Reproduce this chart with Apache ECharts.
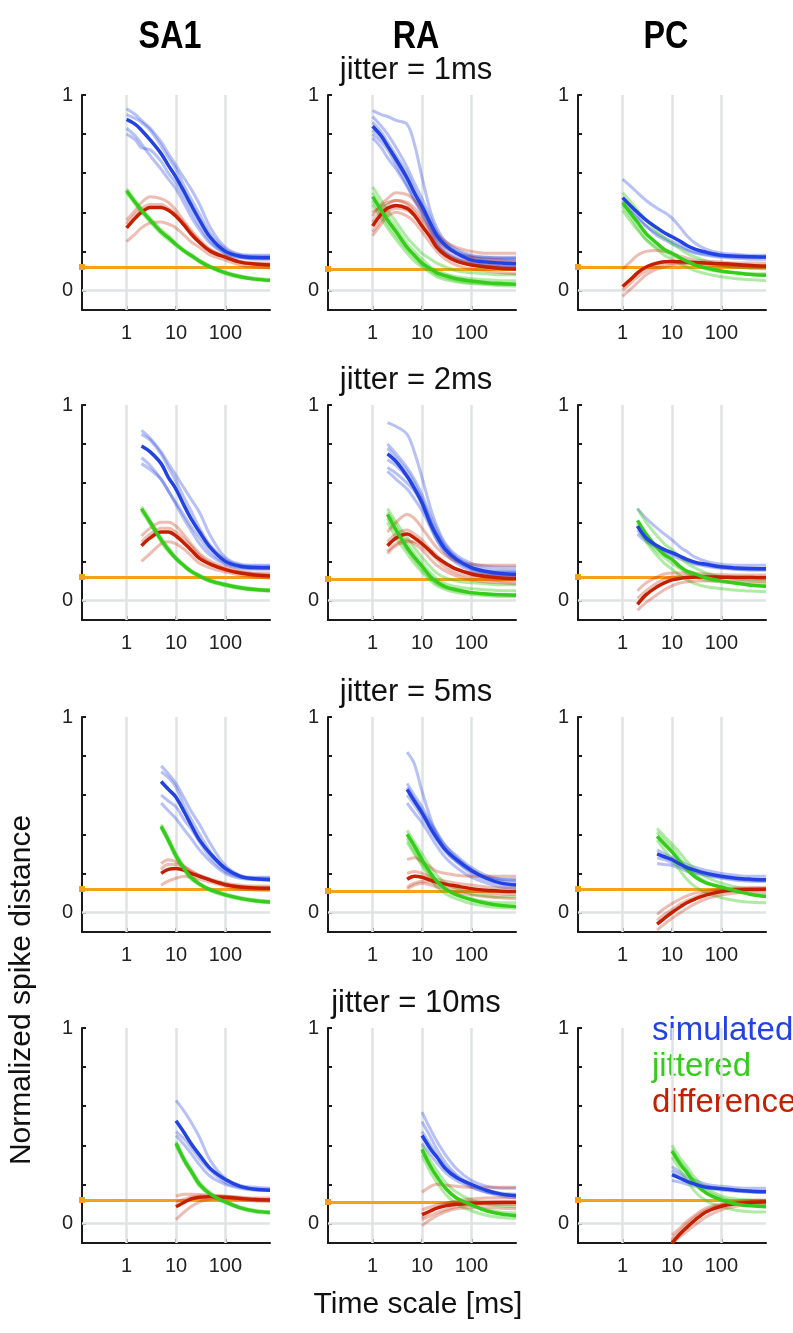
<!DOCTYPE html>
<html>
<head>
<meta charset="utf-8">
<script src="https://cdn.jsdelivr.net/npm/echarts@6/dist/echarts.min.js"></script>
<style>
  html, body { margin: 0; background: #fff; }
  #chart { width: 793px; height: 1333px; }
</style>
</head>
<body>
<div id="chart"></div>
<script>
  const units = ['SA1', 'RA', 'PC'];
  const jitters = ['jitter = 1ms', 'jitter = 2ms', 'jitter = 5ms', 'jitter = 10ms'];
  const xTicks = [1, 10, 100];
  const yTicks = [0, 0.2, 0.4, 0.6, 0.8, 1];
  const yLabels = [0, 1];
  const orangeLevel = [0.123, 0.108, 0.117];

  // time scales (ms) per jitter row
  const t1 = [1, 1.5, 2, 3, 5, 7, 10, 15, 20, 30, 50, 100, 200, 400, 800];
  const t2 = [2, 3, 5, 7, 10, 15, 20, 30, 50, 100, 200, 400, 800];
  const t5 = [5, 7, 10, 15, 20, 30, 50, 100, 200, 400, 800];
  const t10 = [10, 15, 20, 30, 50, 100, 200, 400, 800];

  // ---- jitter = 1ms ----
  const sa1_1_sim = [0.875, 0.85, 0.82, 0.77, 0.70, 0.64, 0.58, 0.50, 0.44, 0.36, 0.27, 0.20, 0.175, 0.168, 0.167];
  const sa1_1_simRuns = [
    [0.93, 0.90, 0.87, 0.83, 0.76, 0.70, 0.64, 0.57, 0.52, 0.44, 0.32, 0.22, 0.185, 0.18, 0.18],
    [0.90, 0.88, 0.86, 0.82, 0.74, 0.68, 0.62, 0.53, 0.47, 0.39, 0.29, 0.21, 0.18, 0.175, 0.175],
    [0.83, 0.79, 0.75, 0.69, 0.62, 0.57, 0.52, 0.44, 0.38, 0.31, 0.24, 0.19, 0.17, 0.165, 0.165],
    [0.80, 0.77, 0.73, 0.72, 0.66, 0.60, 0.55, 0.47, 0.41, 0.33, 0.25, 0.19, 0.168, 0.16, 0.16],
  ];
  const sa1_1_jit = [0.51, 0.45, 0.41, 0.36, 0.30, 0.27, 0.235, 0.20, 0.18, 0.15, 0.12, 0.09, 0.07, 0.058, 0.052];
  const sa1_1_jitRuns = [
    [0.52, 0.46, 0.42, 0.37, 0.31, 0.28, 0.24, 0.205, 0.185, 0.155, 0.125, 0.095, 0.075, 0.062, 0.056],
    [0.50, 0.44, 0.40, 0.35, 0.29, 0.26, 0.23, 0.195, 0.175, 0.145, 0.115, 0.085, 0.066, 0.055, 0.049],
  ];
  const sa1_1_diff = [0.32, 0.37, 0.40, 0.425, 0.425, 0.41, 0.38, 0.33, 0.29, 0.245, 0.20, 0.17, 0.145, 0.135, 0.13];
  const sa1_1_diffRuns = [
    [0.36, 0.41, 0.45, 0.48, 0.47, 0.45, 0.41, 0.35, 0.31, 0.26, 0.21, 0.175, 0.15, 0.14, 0.14],
    [0.25, 0.29, 0.32, 0.345, 0.35, 0.34, 0.32, 0.28, 0.25, 0.22, 0.18, 0.155, 0.13, 0.12, 0.115],
    [0.34, 0.39, 0.42, 0.44, 0.44, 0.42, 0.39, 0.34, 0.30, 0.25, 0.205, 0.17, 0.145, 0.135, 0.13],
  ];

  const ra_1_sim = [0.84, 0.79, 0.74, 0.67, 0.575, 0.50, 0.43, 0.34, 0.28, 0.23, 0.19, 0.155, 0.145, 0.14, 0.137];
  const ra_1_simRuns = [
    [0.92, 0.90, 0.89, 0.87, 0.85, 0.75, 0.58, 0.40, 0.32, 0.25, 0.21, 0.18, 0.17, 0.165, 0.165],
    [0.89, 0.84, 0.80, 0.73, 0.63, 0.55, 0.47, 0.37, 0.30, 0.24, 0.20, 0.175, 0.17, 0.17, 0.17],
    [0.86, 0.81, 0.76, 0.69, 0.60, 0.52, 0.44, 0.35, 0.29, 0.23, 0.19, 0.16, 0.15, 0.145, 0.145],
    [0.80, 0.76, 0.72, 0.64, 0.54, 0.47, 0.40, 0.31, 0.25, 0.20, 0.17, 0.14, 0.13, 0.125, 0.125],
    [0.78, 0.73, 0.68, 0.62, 0.53, 0.46, 0.39, 0.30, 0.24, 0.19, 0.16, 0.135, 0.125, 0.12, 0.12],
    [0.82, 0.78, 0.74, 0.66, 0.57, 0.50, 0.42, 0.33, 0.27, 0.22, 0.19, 0.17, 0.16, 0.16, 0.16],
  ];
  const ra_1_jit = [0.48, 0.41, 0.36, 0.30, 0.22, 0.18, 0.14, 0.11, 0.09, 0.075, 0.06, 0.048, 0.04, 0.035, 0.032];
  const ra_1_jitRuns = [
    [0.53, 0.46, 0.41, 0.35, 0.27, 0.23, 0.19, 0.16, 0.14, 0.12, 0.10, 0.09, 0.085, 0.08, 0.08],
    [0.44, 0.37, 0.32, 0.26, 0.19, 0.15, 0.12, 0.09, 0.07, 0.055, 0.045, 0.035, 0.03, 0.025, 0.022],
    [0.50, 0.43, 0.38, 0.32, 0.24, 0.20, 0.16, 0.12, 0.10, 0.085, 0.07, 0.06, 0.055, 0.05, 0.05],
    [0.46, 0.39, 0.34, 0.28, 0.21, 0.17, 0.13, 0.10, 0.08, 0.065, 0.05, 0.04, 0.035, 0.03, 0.03],
  ];
  const ra_1_diff = [0.33, 0.39, 0.42, 0.435, 0.42, 0.385, 0.33, 0.27, 0.22, 0.18, 0.15, 0.13, 0.12, 0.112, 0.11];
  const ra_1_diffRuns = [
    [0.38, 0.44, 0.47, 0.50, 0.49, 0.46, 0.41, 0.34, 0.29, 0.25, 0.22, 0.20, 0.19, 0.19, 0.19],
    [0.28, 0.34, 0.38, 0.40, 0.38, 0.35, 0.30, 0.24, 0.20, 0.16, 0.13, 0.11, 0.10, 0.09, 0.085],
    [0.35, 0.41, 0.44, 0.46, 0.44, 0.40, 0.35, 0.28, 0.23, 0.19, 0.16, 0.14, 0.13, 0.125, 0.12],
    [0.30, 0.36, 0.40, 0.42, 0.41, 0.38, 0.33, 0.27, 0.22, 0.18, 0.15, 0.13, 0.12, 0.115, 0.11],
    [0.40, 0.43, 0.45, 0.46, 0.45, 0.42, 0.37, 0.31, 0.26, 0.22, 0.19, 0.17, 0.16, 0.155, 0.15],
  ];

  const pc_1_sim = [0.475, 0.43, 0.40, 0.36, 0.32, 0.295, 0.275, 0.25, 0.23, 0.21, 0.195, 0.18, 0.175, 0.172, 0.171];
  const pc_1_simRuns = [
    [0.57, 0.53, 0.50, 0.46, 0.42, 0.40, 0.37, 0.32, 0.28, 0.24, 0.21, 0.19, 0.185, 0.18, 0.18],
    [0.46, 0.41, 0.38, 0.33, 0.28, 0.26, 0.24, 0.22, 0.205, 0.19, 0.18, 0.17, 0.165, 0.16, 0.16],
    [0.44, 0.40, 0.37, 0.33, 0.29, 0.27, 0.25, 0.23, 0.21, 0.195, 0.185, 0.175, 0.17, 0.168, 0.168],
  ];
  const pc_1_jit = [0.45, 0.39, 0.35, 0.29, 0.24, 0.21, 0.19, 0.165, 0.15, 0.13, 0.115, 0.10, 0.09, 0.082, 0.078];
  const pc_1_jitRuns = [
    [0.50, 0.45, 0.41, 0.36, 0.30, 0.27, 0.24, 0.21, 0.19, 0.17, 0.15, 0.13, 0.12, 0.115, 0.115],
    [0.43, 0.37, 0.32, 0.26, 0.21, 0.18, 0.16, 0.135, 0.12, 0.10, 0.085, 0.07, 0.06, 0.055, 0.05],
    [0.41, 0.35, 0.31, 0.26, 0.22, 0.20, 0.18, 0.16, 0.145, 0.13, 0.11, 0.095, 0.09, 0.085, 0.085],
  ];
  const pc_1_diff = [0.02, 0.06, 0.09, 0.12, 0.14, 0.147, 0.148, 0.147, 0.145, 0.143, 0.14, 0.137, 0.133, 0.128, 0.125];
  const pc_1_diffRuns = [
    [0.11, 0.15, 0.18, 0.20, 0.205, 0.20, 0.19, 0.175, 0.165, 0.155, 0.15, 0.145, 0.14, 0.14, 0.14],
    [-0.03, 0.01, 0.04, 0.08, 0.11, 0.12, 0.13, 0.135, 0.135, 0.135, 0.13, 0.125, 0.12, 0.115, 0.11],
    [0.0, 0.04, 0.07, 0.10, 0.125, 0.135, 0.14, 0.14, 0.14, 0.14, 0.135, 0.13, 0.128, 0.125, 0.12],
  ];

  // ---- jitter = 2ms ----
  const sa1_2_sim = [0.79, 0.76, 0.70, 0.63, 0.57, 0.48, 0.42, 0.35, 0.27, 0.20, 0.175, 0.168, 0.167];
  const sa1_2_simRuns = [
    [0.87, 0.83, 0.76, 0.70, 0.64, 0.57, 0.52, 0.45, 0.33, 0.22, 0.185, 0.18, 0.18],
    [0.85, 0.82, 0.75, 0.68, 0.61, 0.52, 0.46, 0.37, 0.28, 0.21, 0.18, 0.175, 0.175],
    [0.73, 0.69, 0.62, 0.56, 0.50, 0.43, 0.38, 0.32, 0.25, 0.19, 0.17, 0.165, 0.165],
    [0.70, 0.67, 0.62, 0.56, 0.49, 0.41, 0.36, 0.29, 0.23, 0.185, 0.165, 0.16, 0.16],
  ];
  const sa1_2_jit = [0.47, 0.40, 0.31, 0.26, 0.215, 0.175, 0.15, 0.125, 0.10, 0.08, 0.065, 0.056, 0.051];
  const sa1_2_jitRuns = [
    [0.48, 0.41, 0.32, 0.27, 0.22, 0.18, 0.155, 0.13, 0.105, 0.085, 0.07, 0.06, 0.055],
    [0.46, 0.39, 0.30, 0.25, 0.21, 0.17, 0.145, 0.12, 0.095, 0.075, 0.06, 0.052, 0.047],
  ];
  const sa1_2_diff = [0.28, 0.32, 0.35, 0.35, 0.33, 0.29, 0.26, 0.215, 0.185, 0.158, 0.14, 0.13, 0.125];
  const sa1_2_diffRuns = [
    [0.33, 0.37, 0.40, 0.40, 0.38, 0.33, 0.29, 0.24, 0.20, 0.17, 0.15, 0.14, 0.14],
    [0.20, 0.24, 0.29, 0.30, 0.29, 0.26, 0.23, 0.19, 0.165, 0.145, 0.13, 0.12, 0.115],
    [0.30, 0.34, 0.37, 0.37, 0.35, 0.31, 0.28, 0.23, 0.19, 0.16, 0.145, 0.135, 0.13],
  ];

  const ra_2_sim = [0.75, 0.71, 0.635, 0.575, 0.50, 0.39, 0.33, 0.26, 0.21, 0.168, 0.148, 0.138, 0.133];
  const ra_2_simRuns = [
    [0.91, 0.89, 0.85, 0.76, 0.63, 0.47, 0.38, 0.29, 0.23, 0.19, 0.175, 0.17, 0.17],
    [0.80, 0.75, 0.68, 0.62, 0.54, 0.43, 0.36, 0.28, 0.22, 0.18, 0.16, 0.155, 0.155],
    [0.78, 0.73, 0.66, 0.60, 0.52, 0.41, 0.34, 0.27, 0.21, 0.165, 0.145, 0.14, 0.14],
    [0.68, 0.65, 0.60, 0.56, 0.49, 0.38, 0.31, 0.24, 0.19, 0.15, 0.13, 0.125, 0.12],
    [0.66, 0.62, 0.57, 0.52, 0.46, 0.37, 0.31, 0.25, 0.20, 0.16, 0.14, 0.13, 0.13],
    [0.72, 0.69, 0.63, 0.57, 0.50, 0.40, 0.33, 0.26, 0.21, 0.17, 0.15, 0.145, 0.145],
  ];
  const ra_2_jit = [0.44, 0.36, 0.27, 0.22, 0.175, 0.12, 0.095, 0.07, 0.055, 0.04, 0.033, 0.029, 0.027];
  const ra_2_jitRuns = [
    [0.47, 0.40, 0.32, 0.27, 0.22, 0.17, 0.14, 0.115, 0.10, 0.09, 0.085, 0.08, 0.08],
    [0.40, 0.32, 0.24, 0.19, 0.145, 0.10, 0.075, 0.055, 0.04, 0.03, 0.025, 0.02, 0.02],
    [0.45, 0.38, 0.29, 0.24, 0.19, 0.14, 0.11, 0.085, 0.07, 0.06, 0.055, 0.05, 0.05],
    [0.42, 0.35, 0.26, 0.21, 0.16, 0.11, 0.085, 0.065, 0.05, 0.04, 0.035, 0.03, 0.03],
  ];
  const ra_2_diff = [0.28, 0.32, 0.34, 0.32, 0.29, 0.25, 0.22, 0.19, 0.16, 0.135, 0.122, 0.115, 0.112];
  const ra_2_diffRuns = [
    [0.35, 0.40, 0.44, 0.42, 0.37, 0.31, 0.27, 0.23, 0.20, 0.185, 0.18, 0.18, 0.18],
    [0.25, 0.29, 0.31, 0.29, 0.26, 0.21, 0.18, 0.15, 0.125, 0.105, 0.095, 0.09, 0.085],
    [0.30, 0.34, 0.36, 0.34, 0.31, 0.26, 0.23, 0.19, 0.16, 0.14, 0.13, 0.125, 0.12],
    [0.24, 0.28, 0.30, 0.30, 0.28, 0.24, 0.21, 0.17, 0.14, 0.12, 0.11, 0.10, 0.10],
  ];

  const pc_2_sim = [0.38, 0.32, 0.28, 0.26, 0.245, 0.225, 0.21, 0.195, 0.185, 0.172, 0.166, 0.163, 0.162];
  const pc_2_simRuns = [
    [0.47, 0.42, 0.37, 0.34, 0.31, 0.27, 0.25, 0.22, 0.20, 0.185, 0.18, 0.18, 0.18],
    [0.36, 0.31, 0.27, 0.25, 0.23, 0.21, 0.20, 0.185, 0.175, 0.165, 0.16, 0.158, 0.158],
    [0.34, 0.30, 0.27, 0.255, 0.24, 0.22, 0.205, 0.19, 0.18, 0.168, 0.16, 0.155, 0.155],
  ];
  const pc_2_jit = [0.41, 0.34, 0.27, 0.235, 0.21, 0.17, 0.15, 0.135, 0.115, 0.10, 0.088, 0.078, 0.073];
  const pc_2_jitRuns = [
    [0.47, 0.40, 0.33, 0.29, 0.26, 0.22, 0.19, 0.165, 0.14, 0.12, 0.11, 0.105, 0.105],
    [0.39, 0.30, 0.23, 0.19, 0.16, 0.125, 0.105, 0.085, 0.07, 0.06, 0.052, 0.048, 0.045],
    [0.38, 0.31, 0.25, 0.22, 0.19, 0.16, 0.14, 0.12, 0.105, 0.095, 0.09, 0.085, 0.085],
  ];
  const pc_2_diff = [-0.02, 0.03, 0.07, 0.09, 0.105, 0.113, 0.117, 0.12, 0.12, 0.119, 0.118, 0.117, 0.116];
  const pc_2_diffRuns = [
    [0.05, 0.09, 0.12, 0.135, 0.14, 0.14, 0.14, 0.138, 0.135, 0.132, 0.13, 0.13, 0.13],
    [-0.05, -0.01, 0.03, 0.055, 0.075, 0.09, 0.095, 0.10, 0.10, 0.10, 0.10, 0.098, 0.097],
    [0.01, 0.05, 0.09, 0.11, 0.12, 0.125, 0.127, 0.127, 0.125, 0.122, 0.12, 0.12, 0.12],
  ];

  // ---- jitter = 5ms ----
  const sa1_5_sim = [0.67, 0.63, 0.59, 0.51, 0.45, 0.37, 0.30, 0.225, 0.185, 0.172, 0.167];
  const sa1_5_simRuns = [
    [0.75, 0.71, 0.66, 0.58, 0.52, 0.45, 0.35, 0.24, 0.19, 0.18, 0.18],
    [0.72, 0.69, 0.64, 0.54, 0.48, 0.40, 0.31, 0.22, 0.185, 0.175, 0.175],
    [0.56, 0.52, 0.48, 0.42, 0.38, 0.32, 0.26, 0.20, 0.175, 0.168, 0.165],
    [0.60, 0.57, 0.54, 0.47, 0.43, 0.36, 0.28, 0.21, 0.18, 0.17, 0.17],
  ];
  const sa1_5_jit = [0.44, 0.37, 0.29, 0.22, 0.18, 0.145, 0.115, 0.09, 0.072, 0.06, 0.053];
  const sa1_5_jitRuns = [
    [0.45, 0.38, 0.30, 0.23, 0.19, 0.15, 0.12, 0.095, 0.077, 0.065, 0.058],
    [0.43, 0.36, 0.28, 0.21, 0.17, 0.14, 0.11, 0.085, 0.068, 0.056, 0.05],
  ];
  const sa1_5_diff = [0.20, 0.22, 0.225, 0.215, 0.20, 0.185, 0.165, 0.142, 0.13, 0.125, 0.124];
  const sa1_5_diffRuns = [
    [0.25, 0.27, 0.26, 0.235, 0.215, 0.19, 0.17, 0.15, 0.14, 0.135, 0.135],
    [0.14, 0.16, 0.175, 0.185, 0.18, 0.17, 0.155, 0.135, 0.12, 0.115, 0.112],
    [0.22, 0.245, 0.245, 0.23, 0.21, 0.19, 0.165, 0.145, 0.132, 0.128, 0.126],
  ];

  const ra_5_sim = [0.63, 0.57, 0.51, 0.43, 0.38, 0.32, 0.27, 0.215, 0.175, 0.15, 0.14];
  const ra_5_simRuns = [
    [0.82, 0.76, 0.62, 0.48, 0.40, 0.32, 0.26, 0.21, 0.18, 0.17, 0.17],
    [0.66, 0.60, 0.54, 0.46, 0.41, 0.34, 0.28, 0.22, 0.18, 0.16, 0.155],
    [0.64, 0.58, 0.52, 0.45, 0.40, 0.34, 0.29, 0.23, 0.19, 0.17, 0.165],
    [0.56, 0.51, 0.46, 0.39, 0.34, 0.28, 0.23, 0.18, 0.15, 0.13, 0.125],
    [0.60, 0.55, 0.49, 0.42, 0.37, 0.31, 0.26, 0.20, 0.165, 0.145, 0.14],
  ];
  const ra_5_jit = [0.40, 0.34, 0.27, 0.20, 0.16, 0.12, 0.09, 0.065, 0.047, 0.036, 0.031];
  const ra_5_jitRuns = [
    [0.42, 0.36, 0.30, 0.23, 0.19, 0.15, 0.12, 0.095, 0.085, 0.08, 0.08],
    [0.38, 0.31, 0.24, 0.17, 0.13, 0.095, 0.07, 0.045, 0.032, 0.025, 0.022],
    [0.36, 0.30, 0.25, 0.19, 0.155, 0.12, 0.095, 0.07, 0.055, 0.05, 0.05],
  ];
  const ra_5_diff = [0.17, 0.185, 0.18, 0.165, 0.155, 0.145, 0.135, 0.122, 0.113, 0.109, 0.107];
  const ra_5_diffRuns = [
    [0.27, 0.28, 0.26, 0.23, 0.21, 0.20, 0.19, 0.185, 0.185, 0.185, 0.185],
    [0.12, 0.14, 0.15, 0.14, 0.13, 0.12, 0.105, 0.09, 0.08, 0.075, 0.07],
    [0.20, 0.21, 0.20, 0.18, 0.17, 0.16, 0.15, 0.14, 0.13, 0.125, 0.125],
    [0.13, 0.15, 0.16, 0.155, 0.145, 0.135, 0.125, 0.11, 0.10, 0.095, 0.092],
  ];

  const pc_5_sim = [0.30, 0.285, 0.27, 0.245, 0.23, 0.215, 0.20, 0.185, 0.175, 0.17, 0.167];
  const pc_5_simRuns = [
    [0.32, 0.30, 0.28, 0.26, 0.245, 0.23, 0.215, 0.20, 0.19, 0.185, 0.185],
    [0.25, 0.245, 0.24, 0.225, 0.21, 0.20, 0.19, 0.18, 0.17, 0.165, 0.163],
    [0.28, 0.27, 0.255, 0.235, 0.22, 0.205, 0.19, 0.175, 0.165, 0.16, 0.158],
  ];
  const pc_5_jit = [0.39, 0.35, 0.31, 0.255, 0.22, 0.18, 0.15, 0.13, 0.11, 0.092, 0.082];
  const pc_5_jitRuns = [
    [0.43, 0.39, 0.35, 0.30, 0.26, 0.22, 0.18, 0.15, 0.13, 0.12, 0.12],
    [0.37, 0.32, 0.27, 0.21, 0.17, 0.13, 0.10, 0.075, 0.06, 0.052, 0.05],
    [0.41, 0.37, 0.33, 0.27, 0.23, 0.19, 0.155, 0.125, 0.105, 0.095, 0.09],
  ];
  const pc_5_diff = [-0.06, -0.03, 0.0, 0.03, 0.05, 0.07, 0.09, 0.107, 0.115, 0.118, 0.119];
  const pc_5_diffRuns = [
    [-0.01, 0.02, 0.045, 0.07, 0.085, 0.10, 0.11, 0.12, 0.125, 0.128, 0.128],
    [-0.09, -0.06, -0.03, 0.0, 0.02, 0.045, 0.07, 0.09, 0.10, 0.105, 0.105],
    [-0.04, -0.01, 0.015, 0.045, 0.06, 0.08, 0.10, 0.115, 0.12, 0.122, 0.122],
  ];

  // ---- jitter = 10ms ----
  const sa1_10_sim = [0.525, 0.46, 0.41, 0.35, 0.28, 0.225, 0.19, 0.175, 0.17];
  const sa1_10_simRuns = [
    [0.63, 0.57, 0.52, 0.44, 0.32, 0.23, 0.195, 0.185, 0.18],
    [0.47, 0.43, 0.39, 0.33, 0.27, 0.21, 0.185, 0.175, 0.175],
    [0.45, 0.40, 0.36, 0.30, 0.24, 0.20, 0.18, 0.17, 0.168],
  ];
  const sa1_10_jit = [0.41, 0.32, 0.27, 0.20, 0.15, 0.11, 0.08, 0.063, 0.056];
  const sa1_10_jitRuns = [
    [0.42, 0.33, 0.28, 0.21, 0.155, 0.115, 0.085, 0.068, 0.06],
    [0.40, 0.31, 0.26, 0.19, 0.145, 0.105, 0.076, 0.059, 0.052],
  ];
  const sa1_10_diff = [0.085, 0.11, 0.125, 0.134, 0.137, 0.134, 0.128, 0.122, 0.12];
  const sa1_10_diffRuns = [
    [0.14, 0.15, 0.15, 0.148, 0.145, 0.14, 0.135, 0.13, 0.13],
    [0.02, 0.06, 0.085, 0.11, 0.125, 0.128, 0.122, 0.115, 0.112],
    [0.11, 0.125, 0.135, 0.14, 0.14, 0.138, 0.13, 0.125, 0.122],
  ];

  const ra_10_sim = [0.45, 0.38, 0.34, 0.28, 0.235, 0.20, 0.17, 0.15, 0.142];
  const ra_10_simRuns = [
    [0.57, 0.48, 0.42, 0.35, 0.28, 0.22, 0.19, 0.18, 0.18],
    [0.52, 0.44, 0.38, 0.31, 0.25, 0.20, 0.17, 0.155, 0.15],
    [0.47, 0.40, 0.35, 0.29, 0.24, 0.19, 0.16, 0.14, 0.13],
    [0.41, 0.35, 0.31, 0.26, 0.22, 0.185, 0.16, 0.15, 0.145],
  ];
  const ra_10_jit = [0.38, 0.29, 0.24, 0.18, 0.13, 0.095, 0.065, 0.048, 0.04];
  const ra_10_jitRuns = [
    [0.40, 0.32, 0.27, 0.21, 0.16, 0.12, 0.10, 0.09, 0.085],
    [0.35, 0.26, 0.21, 0.15, 0.10, 0.065, 0.042, 0.03, 0.025],
    [0.37, 0.29, 0.24, 0.18, 0.13, 0.095, 0.07, 0.058, 0.055],
  ];
  const ra_10_diff = [0.045, 0.065, 0.078, 0.09, 0.098, 0.103, 0.106, 0.107, 0.107];
  const ra_10_diffRuns = [
    [0.16, 0.19, 0.20, 0.195, 0.19, 0.185, 0.185, 0.185, 0.185],
    [-0.01, 0.02, 0.04, 0.06, 0.075, 0.08, 0.08, 0.078, 0.075],
    [0.03, 0.06, 0.08, 0.10, 0.115, 0.125, 0.13, 0.132, 0.132],
    [0.07, 0.085, 0.095, 0.105, 0.11, 0.112, 0.112, 0.112, 0.112],
    [0.02, 0.04, 0.055, 0.07, 0.085, 0.095, 0.098, 0.098, 0.097],
  ];

  const pc_10_sim = [0.25, 0.23, 0.215, 0.20, 0.185, 0.178, 0.17, 0.165, 0.162];
  const pc_10_simRuns = [
    [0.29, 0.26, 0.24, 0.22, 0.20, 0.19, 0.183, 0.18, 0.18],
    [0.22, 0.21, 0.20, 0.19, 0.18, 0.172, 0.165, 0.16, 0.158],
    [0.27, 0.245, 0.225, 0.205, 0.19, 0.178, 0.17, 0.167, 0.165],
  ];
  const pc_10_jit = [0.37, 0.30, 0.26, 0.20, 0.155, 0.12, 0.10, 0.09, 0.085];
  const pc_10_jitRuns = [
    [0.40, 0.33, 0.29, 0.23, 0.18, 0.14, 0.125, 0.12, 0.118],
    [0.34, 0.27, 0.22, 0.16, 0.115, 0.085, 0.068, 0.06, 0.058],
    [0.38, 0.31, 0.27, 0.21, 0.165, 0.13, 0.11, 0.10, 0.098],
  ];
  const pc_10_diff = [-0.10, -0.05, -0.02, 0.02, 0.06, 0.088, 0.102, 0.108, 0.111];
  const pc_10_diffRuns = [
    [-0.06, -0.02, 0.01, 0.045, 0.08, 0.10, 0.112, 0.118, 0.12],
    [-0.10, -0.065, -0.04, -0.005, 0.035, 0.07, 0.088, 0.095, 0.098],
    [-0.08, -0.035, -0.005, 0.035, 0.07, 0.095, 0.105, 0.11, 0.112],
  ];

  const panels = [
    [t1, sa1_1_sim, sa1_1_simRuns, sa1_1_jit, sa1_1_jitRuns, sa1_1_diff, sa1_1_diffRuns],
    [t1, ra_1_sim, ra_1_simRuns, ra_1_jit, ra_1_jitRuns, ra_1_diff, ra_1_diffRuns],
    [t1, pc_1_sim, pc_1_simRuns, pc_1_jit, pc_1_jitRuns, pc_1_diff, pc_1_diffRuns],
    [t2, sa1_2_sim, sa1_2_simRuns, sa1_2_jit, sa1_2_jitRuns, sa1_2_diff, sa1_2_diffRuns],
    [t2, ra_2_sim, ra_2_simRuns, ra_2_jit, ra_2_jitRuns, ra_2_diff, ra_2_diffRuns],
    [t2, pc_2_sim, pc_2_simRuns, pc_2_jit, pc_2_jitRuns, pc_2_diff, pc_2_diffRuns],
    [t5, sa1_5_sim, sa1_5_simRuns, sa1_5_jit, sa1_5_jitRuns, sa1_5_diff, sa1_5_diffRuns],
    [t5, ra_5_sim, ra_5_simRuns, ra_5_jit, ra_5_jitRuns, ra_5_diff, ra_5_diffRuns],
    [t5, pc_5_sim, pc_5_simRuns, pc_5_jit, pc_5_jitRuns, pc_5_diff, pc_5_diffRuns],
    [t10, sa1_10_sim, sa1_10_simRuns, sa1_10_jit, sa1_10_jitRuns, sa1_10_diff, sa1_10_diffRuns],
    [t10, ra_10_sim, ra_10_simRuns, ra_10_jit, ra_10_jitRuns, ra_10_diff, ra_10_diffRuns],
    [t10, pc_10_sim, pc_10_simRuns, pc_10_jit, pc_10_jitRuns, pc_10_diff, pc_10_diffRuns],
  ];

  const BLUE = '#2342e2';
  const GREEN = '#36cc1c';
  const RED = '#c42000';
  const ORANGE = '#f4a11b';
  const GREY = '#dfe3e3';
  const AXIS = '#1a1a1a';
  const FONT = '"Liberation Sans", Arial, sans-serif';

  const colLeft = [82, 328, 578];
  const rowTop = [95, 405, 717, 1028];
  const plotW = 188;
  const plotH = 215;

  const grids = [], xAxes = [], yAxes = [], series = [];

  const line = (gi, t, y, color, width, opacity, z) => ({
    type: 'line',
    xAxisIndex: gi,
    yAxisIndex: gi,
    data: t.map((x, i) => [x, y[i]]),
    symbol: 'none',
    smooth: 0.35,
    silent: true,
    z: z,
    lineStyle: { color: color, width: width, opacity: opacity },
  });

  const guide = { color: GREY, width: 2.5, type: 'solid' };

  panels.forEach((p, gi) => {
    const col = gi % 3;
    const row = Math.floor(gi / 3);
    grids.push({ left: colLeft[col], top: rowTop[row], width: plotW, height: plotH });
    xAxes.push({
      gridIndex: gi,
      type: 'log',
      logBase: 10,
      min: 0.125,
      max: 800,
      axisLine: { onZero: false, lineStyle: { color: AXIS, width: 2 } },
      axisTick: { inside: true, length: 4, customValues: xTicks, lineStyle: { color: AXIS, width: 2 } },
      axisLabel: { customValues: xTicks, margin: 13, fontSize: 20, color: '#222', fontFamily: FONT },
      splitLine: { show: false },
    });
    yAxes.push({
      gridIndex: gi,
      type: 'value',
      min: -0.1,
      max: 1,
      axisLine: { show: true, lineStyle: { color: AXIS, width: 2 } },
      axisTick: { show: true, inside: true, length: 4, customValues: yTicks, lineStyle: { color: AXIS, width: 2 } },
      axisLabel: { customValues: yLabels, margin: 9, fontSize: 20, color: '#222', fontFamily: FONT },
      splitLine: { show: false },
    });

    const [t, sim, simRuns, jit, jitRuns, diff, diffRuns] = p;

    // reference lines: grey guides and the orange baseline
    series.push({
      type: 'line',
      xAxisIndex: gi,
      yAxisIndex: gi,
      data: [],
      silent: true,
      markLine: {
        silent: true,
        z: 1,
        animation: false,
        symbol: ['none', 'none'],
        label: { show: false },
        data: [
          { xAxis: xTicks[0], lineStyle: guide },
          { xAxis: xTicks[1], lineStyle: guide },
          { xAxis: xTicks[2], lineStyle: guide },
          { yAxis: 0, lineStyle: guide },
          {
            yAxis: orangeLevel[col],
            symbol: ['circle', 'none'],
            symbolSize: 6,
            itemStyle: { color: ORANGE },
            lineStyle: { color: ORANGE, width: 3, type: 'solid' },
          },
        ],
      },
    });

    simRuns.forEach((r) => series.push(line(gi, t, r, BLUE, 3, 0.33, 3)));
    jitRuns.forEach((r) => series.push(line(gi, t, r, GREEN, 3, 0.4, 3)));
    diffRuns.forEach((r) => series.push(line(gi, t, r, RED, 3, 0.3, 3)));
    series.push(line(gi, t, diff, RED, 3.5, 1, 5));
    series.push(line(gi, t, jit, GREEN, 3.5, 1, 5));
    series.push(line(gi, t, sim, BLUE, 3.5, 1, 5));
  });

  const texts = [];
  const colCenter = colLeft.map((l) => l + plotW / 2 - 6);
  units.forEach((u, i) => {
    texts.push({
      type: 'text', x: colCenter[i], y: 38, scaleX: 0.85,
      style: { text: u, fill: '#000', font: 'bold 38px ' + FONT, textAlign: 'center', textVerticalAlign: 'middle' },
    });
  });
  jitters.forEach((j, i) => {
    texts.push({
      type: 'text', x: colCenter[1], y: rowTop[i] - 25,
      style: { text: j, fill: '#111', font: '31px ' + FONT, textAlign: 'center', textVerticalAlign: 'middle' },
    });
  });
  const legendItems = [['simulated', BLUE], ['jittered', GREEN], ['difference', RED]];
  legendItems.forEach(([name, c], i) => {
    texts.push({
      type: 'text', x: 652, y: 1031 + i * 36,
      style: { text: name, fill: c, font: '33px ' + FONT, textAlign: 'left', textVerticalAlign: 'middle' },
    });
  });
  texts.push({
    type: 'text', x: 418, y: 1305,
    style: { text: 'Time scale [ms]', fill: '#111', font: '30px ' + FONT, textAlign: 'center', textVerticalAlign: 'middle' },
  });
  texts.push({
    type: 'text', x: 22, y: 990, rotation: Math.PI / 2,
    style: { text: 'Normalized spike distance', fill: '#111', font: '30px ' + FONT, textAlign: 'center', textVerticalAlign: 'middle' },
  });

  const chart = echarts.init(document.getElementById('chart'), null, { renderer: 'canvas' });
  chart.setOption({
    animation: false,
    backgroundColor: '#fff',
    grid: grids,
    xAxis: xAxes,
    yAxis: yAxes,
    series: series,
    graphic: texts,
  });
</script>
</body>
</html>
